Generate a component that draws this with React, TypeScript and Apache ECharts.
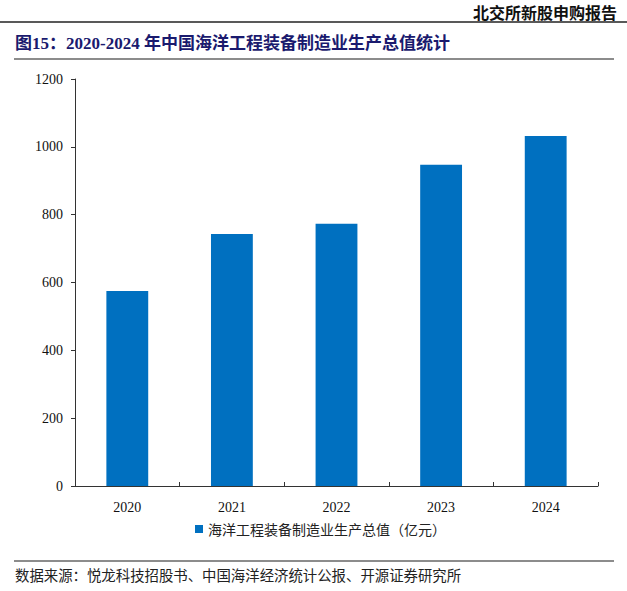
import React, { useEffect, useRef } from "react";
import * as echarts from "echarts";

const categories = ["2020", "2021", "2022", "2023", "2024"];
const values = [575, 743, 773, 947, 1032];
const seriesName = "海洋工程装备制造业生产总值（亿元）";
const headerText = "北交所新股申购报告";
const titleText = "图15：2020-2024 年中国海洋工程装备制造业生产总值统计";
const sourceText = "数据来源：悦龙科技招股书、中国海洋经济统计公报、开源证券研究所";

const serif = "'Liberation Serif', 'Times New Roman', 'Noto Sans CJK SC', serif";
const cjk = "'Noto Sans CJK SC', sans-serif";

export default function App() {
  const ref = useRef<HTMLDivElement>(null);
  useEffect(() => {
    const chart = echarts.init(ref.current!, null, { renderer: "svg" });
    chart.setOption({
      animation: false,
      backgroundColor: "#ffffff",
      grid: { left: 75, right: 29, top: 79, bottom: 105 },
      legend: {
        data: [seriesName],
        bottom: 50,
        left: 190,
        itemWidth: 8,
        itemHeight: 8,
        itemGap: 4,
        icon: "rect",
        textStyle: { fontFamily: cjk, fontSize: 14, color: "#222" },
      },
      xAxis: {
        type: "category",
        data: categories,
        axisLine: { lineStyle: { color: "#333", width: 1 } },
        axisTick: { show: true, inside: true, length: 4, lineStyle: { color: "#333" } },
        axisLabel: { fontFamily: serif, fontSize: 14, color: "#111", margin: 14 },
      },
      yAxis: {
        type: "value",
        min: 0,
        max: 1200,
        interval: 200,
        splitLine: { show: false },
        axisLine: { show: true, lineStyle: { color: "#333", width: 1 } },
        axisTick: { show: true, inside: false, length: 4, lineStyle: { color: "#333" } },
        axisLabel: {
          fontFamily: serif,
          fontSize: 14,
          color: "#111",
          margin: 12,
          formatter: (v: number) => String(v),
        },
      },
      series: [
        {
          name: seriesName,
          type: "bar",
          data: values,
          barWidth: "40%",
          itemStyle: { color: "#0070C0" },
        },
      ],
      graphic: [
        {
          type: "text",
          right: 10,
          top: 4,
          style: { text: headerText, font: `bold 16px ${cjk}`, fill: "#111" },
        },
        {
          type: "line",
          shape: { x1: 0, y1: 22, x2: 627, y2: 22 },
          style: { stroke: "#222", lineWidth: 1.5 },
        },
        {
          type: "text",
          left: 15,
          top: 35,
          style: { text: titleText, font: `bold 17px ${serif}`, fill: "#1a1a6e" },
        },
        {
          type: "line",
          shape: { x1: 14, y1: 59, x2: 614, y2: 59 },
          style: { stroke: "#8c8c8c", lineWidth: 2 },
        },
        {
          type: "line",
          shape: { x1: 14, y1: 561, x2: 614, y2: 561 },
          style: { stroke: "#8c8c8c", lineWidth: 2 },
        },
        {
          type: "text",
          left: 15,
          top: 567,
          style: { text: sourceText, font: `14.4px ${cjk}`, fill: "#222" },
        },
      ],
    });
    return () => chart.dispose();
  }, []);
  return (
    <div
      ref={ref}
      style={{ position: "absolute", left: 0, top: 0, width: 627, height: 591 }}
    />
  );
}
